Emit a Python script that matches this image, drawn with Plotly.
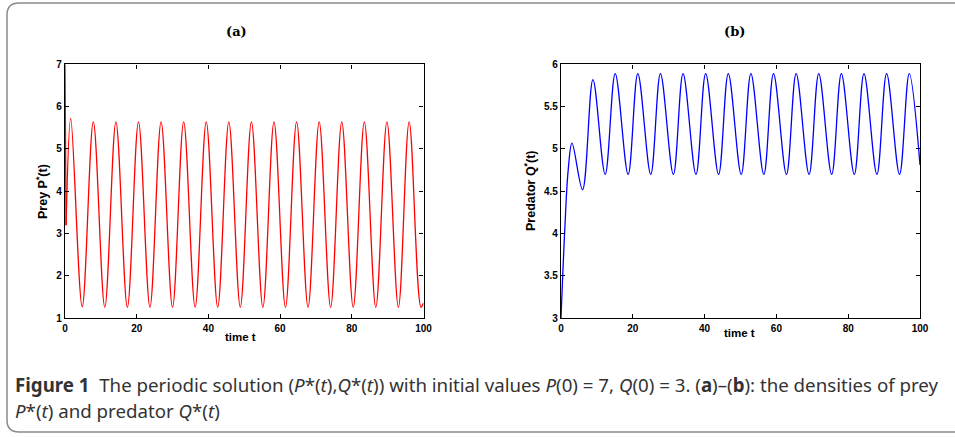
import plotly.graph_objects as go

# ---------------- data ----------------
P_init_t = [0.0, 0.3]
P_init_v = [7.0, 3.2]

P_peak_t = [1.6, 7.9, 14.2, 20.5, 26.8, 33.1, 39.4, 45.7, 52.0, 58.3, 64.6, 70.9, 77.2, 83.5, 89.8, 96.0]
P_peak_v = [5.72, 5.64, 5.64, 5.64, 5.64, 5.64, 5.64, 5.64, 5.64, 5.64, 5.64, 5.64, 5.64, 5.64, 5.64, 5.64]
P_trough_t = [4.8, 11.1, 17.4, 23.7, 30.0, 36.3, 42.6, 48.9, 55.2, 61.5, 67.8, 74.1, 80.4, 86.7, 93.0, 99.3]
P_trough_v = [1.27, 1.26, 1.26, 1.26, 1.26, 1.26, 1.26, 1.26, 1.26, 1.26, 1.26, 1.26, 1.26, 1.26, 1.26, 1.26]
P_end_t = [100.0]
P_end_v = [1.36]

Q_init_t = [0.0, 1.0, 2.0]
Q_init_v = [3.0, 4.0, 4.75]
Q_peak_t = [3.06, 8.9, 15.1, 21.4, 27.7, 34.0, 40.3, 46.6, 52.9, 59.2, 65.5, 71.8, 78.1, 84.4, 90.7, 97.0]
Q_peak_v = [5.07, 5.82, 5.89, 5.89, 5.89, 5.89, 5.89, 5.89, 5.89, 5.89, 5.89, 5.89, 5.89, 5.89, 5.89, 5.89]
Q_trough_t = [6.0, 12.3, 18.7, 25.0, 31.3, 37.6, 43.9, 50.2, 56.5, 62.8, 69.1, 75.4, 81.7, 88.0, 94.3]
Q_trough_v = [4.52, 4.70, 4.70, 4.70, 4.70, 4.70, 4.70, 4.70, 4.70, 4.70, 4.70, 4.70, 4.70, 4.70, 4.70]
Q_end_t = [100.0]
Q_end_v = [4.81]

x_ticks = [0, 20, 40, 60, 80, 100]
P_ticks = [1, 2, 3, 4, 5, 6, 7]
Q_ticks = [3, 3.5, 4, 4.5, 5, 5.5, 6]
Q_tick_text = ["3", "3.5", "4", "4.5", "5", "5.5", "6"]

def merge(init_t, init_v, a_t, a_v, b_t, b_v, end_t, end_v):
    pts = list(zip(init_t, init_v)) + list(zip(a_t, a_v)) + list(zip(b_t, b_v)) + list(zip(end_t, end_v))
    pts.sort(key=lambda p: p[0])
    return [p[0] for p in pts], [p[1] for p in pts]

Pt, Pv = merge(P_init_t[-1:], P_init_v[-1:], P_peak_t, P_peak_v, P_trough_t, P_trough_v, P_end_t, P_end_v)
Qt, Qv = merge(Q_init_t, Q_init_v, Q_peak_t, Q_peak_v, Q_trough_t, Q_trough_v, Q_end_t, Q_end_v)

W, H = 955, 437
def fx(p):
    return p / W
def fy(p):
    return 1 - p / H

fig = go.Figure()
fig.add_trace(go.Scatter(x=P_init_t, y=P_init_v, mode="lines", line=dict(color="#ff0000", width=1.3),
                         xaxis="x", yaxis="y", showlegend=False))
fig.add_trace(go.Scatter(x=Pt, y=Pv, mode="lines", line=dict(color="#ff0000", width=1.3, shape="spline"),
                         xaxis="x", yaxis="y", showlegend=False))
fig.add_trace(go.Scatter(x=Qt, y=Qv, mode="lines", line=dict(color="#0000ff", width=1.3, shape="spline"),
                         xaxis="x2", yaxis="y2", showlegend=False))

tickfont = dict(family="Liberation Sans, Arial, sans-serif", size=10, color="black", weight="bold")
common = dict(showline=True, linecolor="black", linewidth=1.4, mirror="ticks", ticks="inside",
              ticklen=4, tickwidth=1, tickcolor="black", showgrid=False, zeroline=False,
              automargin=False, tickfont=tickfont)

ydom = [fy(318.3), fy(64.3)]
fig.update_layout(
    template="none",
    width=W, height=H,
    margin=dict(l=0, r=0, t=0, b=0, pad=0, autoexpand=False),
    paper_bgcolor="white", plot_bgcolor="white",
    xaxis=dict(domain=[fx(65), fx(423.5)], range=[0, 100], tickvals=x_ticks, anchor="y", **common),
    yaxis=dict(domain=ydom, range=[1, 7], tickvals=P_ticks, anchor="x", **common),
    xaxis2=dict(domain=[fx(561), fx(920)], range=[0, 100], tickvals=x_ticks, anchor="y2", **common),
    yaxis2=dict(domain=ydom, range=[3, 6], tickvals=Q_ticks, ticktext=Q_tick_text, anchor="x2", **common),
)

ylab_font = dict(family="Liberation Sans, Arial, sans-serif", size=12.5, color="black", weight="bold")
xlab_font = dict(family="Liberation Sans, Arial, sans-serif", size=11.5, color="black", weight="bold")
title_font = dict(family="DejaVu Serif, serif", size=13, color="black", weight="bold")
ann = [
    dict(text="(a)", x=fx(236), y=fy(32), font=title_font),
    dict(text="(b)", x=fx(734), y=fy(32), font=title_font),
    dict(text="Prey P<sup>*</sup>(t)", x=fx(42), y=fy(192), textangle=-90, font=ylab_font),
    dict(text="Predator Q<sup>*</sup>(t)", x=fx(530), y=fy(191), textangle=-90, font=ylab_font),
    dict(text="time t", x=fx(240), y=fy(337), font=xlab_font),
    dict(text="time t", x=fx(739), y=fy(333), font=xlab_font),
]
cap_font = dict(family="Noto Sans, Open Sans, sans-serif", size=18.7, color="#333333")
ann.append(dict(text="<b>Figure 1</b>  The periodic solution (<i>P</i>*(<i>t</i>),<i>Q</i>*(<i>t</i>)) with initial values "
                     "<i>P</i>(0) = 7, <i>Q</i>(0) = 3. (<b>a</b>)–(<b>b</b>): the densities of prey",
                x=fx(13), y=fy(384), xanchor="left", font=cap_font))
ann.append(dict(text="<i>P</i>*(<i>t</i>) and predator <i>Q</i>*(<i>t</i>)",
                x=fx(13), y=fy(410), xanchor="left", font=cap_font))
for a in ann:
    a.setdefault("xref", "paper")
    a.setdefault("yref", "paper")
    a.setdefault("showarrow", False)
    a.setdefault("xanchor", "center")
    a.setdefault("yanchor", "middle")
fig.update_layout(annotations=ann)

# rounded frame around the figure (top-left and bottom-left corners)
r = 12
path = (f"M 1,{fy(3)} L {fx(7 + r)},{fy(3)} "
        f"Q {fx(7)},{fy(3)} {fx(7)},{fy(3 + r)} "
        f"L {fx(7)},{fy(432 - r)} Q {fx(7)},{fy(432)} {fx(7 + r)},{fy(432)} L 1,{fy(432)}")
fig.add_shape(type="path", path=path, xref="paper", yref="paper",
              line=dict(color="#8a8a8a", width=1.5))

fig.write_html(
    "out.html",
    config={"displayModeBar": False},
    post_script=("document.body.style.margin='0';document.body.style.padding='0';"
                 "document.body.style.overflow='hidden';"
                 "document.documentElement.style.overflow='hidden';"),
)
